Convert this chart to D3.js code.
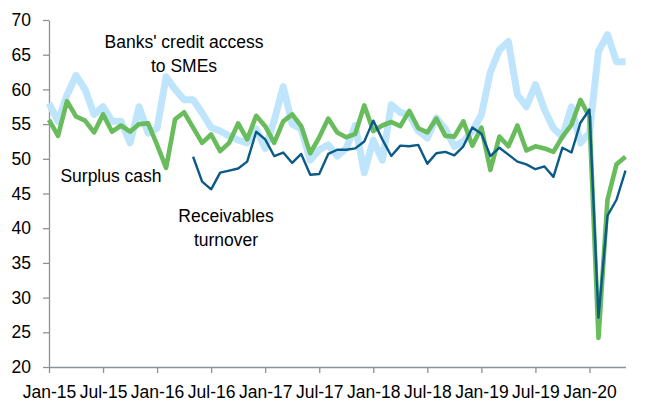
<!DOCTYPE html>
<html>
<head>
<meta charset="utf-8">
<script src="https://cdn.jsdelivr.net/npm/d3@7"></script>
<style>
  body { margin: 0; background: #fff; }
  svg { display: block; font-family: "Liberation Sans", Arial, sans-serif; }
  .axis path, .axis line { stroke: #8a939c; stroke-width: 1.3; }
  .axis text { font-size: 17.5px; fill: #000; }
  .label { font-size: 17.5px; fill: #000; }
</style>
</head>
<body>
<div id="chart"></div>
<script>
(function() {
  var width = 668
  var height = 405
  var margin = {top: 20, right: 42, bottom: 38, left: 49}

  // monthly, Jan-15 .. May-20
  var months = d3.timeMonth.range(new Date(2015, 0, 1), new Date(2020, 5, 1))
  var tickLabels = ['Jan-15', 'Jul-15', 'Jan-16', 'Jul-16', 'Jan-17', 'Jul-17',
    'Jan-18', 'Jul-18', 'Jan-19', 'Jul-19', 'Jan-20']
  var yTicks = [20, 25, 30, 35, 40, 45, 50, 55, 60, 65, 70]

  var banksCredit = [58.0, 55.4, 59.2, 62.0, 60.0, 56.4, 57.5, 55.4, 55.4, 52.3, 57.5, 53.7,
    54.4, 61.8, 60.0, 58.5, 58.5, 56.6, 54.5, 54.0, 53.3, 52.7, 52.3, 54.3,
    51.5, 55.5, 60.4, 55.0, 54.3, 49.8, 51.3, 52.0, 50.4, 51.5, 54.8, 48.0,
    52.7, 49.8, 57.8, 56.7, 56.3, 54.0, 53.0, 55.9, 54.3, 51.8, 52.5, 54.0,
    56.3, 62.5, 65.7, 66.9, 59.2, 57.5, 60.7, 57.1, 54.4, 53.2, 57.5, 52.3,
    53.7, 65.5, 67.9, 64.0, 64.0]

  var surplusCash = [55.6, 53.3, 58.3, 56.1, 55.5, 53.8, 56.4, 53.9, 54.8, 53.9, 55.0, 55.1,
    52.0, 48.7, 55.7, 56.7, 54.5, 52.3, 53.5, 51.1, 52.3, 55.1, 52.8, 56.2,
    54.7, 52.3, 55.4, 56.4, 54.7, 50.8, 53.1, 55.8, 53.8, 53.1, 53.6, 57.7,
    54.0, 54.8, 55.3, 54.7, 56.9, 54.4, 53.8, 55.8, 53.3, 53.2, 55.4, 51.9,
    54.5, 48.4, 53.2, 51.8, 54.8, 51.2, 51.8, 51.5, 51.0, 53.2, 54.9, 58.5,
    56.0, 24.2, 44.1, 49.2, 50.3]

  var receivables = [null, null, null, null, null, null, null, null, null, null, null, null,
    null, null, null, null, 50.3, 46.7, 45.6, 48.0, 48.3, 48.6, 49.6, 53.9,
    52.8, 50.4, 50.9, 49.4, 50.7, 47.7, 47.8, 50.7, 51.3, 51.3, 51.5, 52.5,
    55.5, 52.8, 50.4, 51.9, 51.8, 52.0, 49.3, 50.8, 51.0, 50.5, 51.8, 54.5,
    53.6, 50.4, 51.6, 50.6, 49.6, 49.2, 48.5, 48.9, 47.4, 51.6, 50.9, 55.2,
    57.1, 27.1, 41.8, 44.1, 48.3]

  var fmt = d3.timeFormat('%b-%y')
  var cats = months.map(fmt)

  var w = width - margin.left - margin.right
  var h = height - margin.top - margin.bottom

  var xPositionScale = d3.scalePoint().domain(cats).range([0, w - 0.5])
  var yPositionScale = d3.scaleLinear().domain([20, 70]).range([h, 0])

  var svg = d3.select('#chart')
    .append('svg')
    .attr('width', width)
    .attr('height', height)
    .append('g')
    .attr('transform', 'translate(' + margin.left + ',' + margin.top + ')')

  var series = [
    {name: 'banks', values: banksCredit, color: '#bfe5fc', width: 7},
    {name: 'surplus', values: surplusCash, color: '#68bc5c', width: 4.6},
    {name: 'receivables', values: receivables, color: '#0b5a87', width: 2.4}
  ]

  var line = d3.line()
    .defined(d => d.v != null)
    .x(d => xPositionScale(d.c))
    .y(d => yPositionScale(d.v))

  var yAxis = d3.axisLeft(yPositionScale)
    .tickValues(yTicks)
    .tickSize(6)
    .tickSizeOuter(0)
    .tickPadding(12)
  svg.append('g')
    .attr('class', 'axis axis-y')
    .call(yAxis)

  var xAxis = d3.axisBottom(xPositionScale)
    .tickValues(tickLabels)
    .tickSize(6)
    .tickSizeOuter(0)
    .tickPadding(13)
  svg.append('g')
    .attr('class', 'axis axis-x')
    .attr('transform', 'translate(0,' + h + ')')
    .call(xAxis)

  svg.selectAll('.series')
    .data(series)
    .enter().append('path')
    .attr('class', 'series')
    .attr('fill', 'none')
    .attr('stroke', d => d.color)
    .attr('stroke-width', d => d.width)
    .attr('stroke-linejoin', 'round')
    .attr('d', d => line(d.values.map((v, i) => ({c: cats[i], v: v}))))

  // labels
  var labels = [
    {lines: ["Banks' credit access", 'to SMEs'], x: 184, y: 48},
    {lines: ['Surplus cash'], x: 111, y: 182},
    {lines: ['Receivables', 'turnover'], x: 226, y: 222}
  ]
  labels.forEach(function(l) {
    var t = svg.append('text')
      .attr('class', 'label')
      .attr('text-anchor', 'middle')
      .attr('x', l.x - margin.left)
      .attr('y', l.y - margin.top)
    l.lines.forEach(function(s, i) {
      t.append('tspan')
        .attr('x', l.x - margin.left)
        .attr('dy', i === 0 ? 0 : 24)
        .text(s)
    })
  })
})()
</script>
</body>
</html>
